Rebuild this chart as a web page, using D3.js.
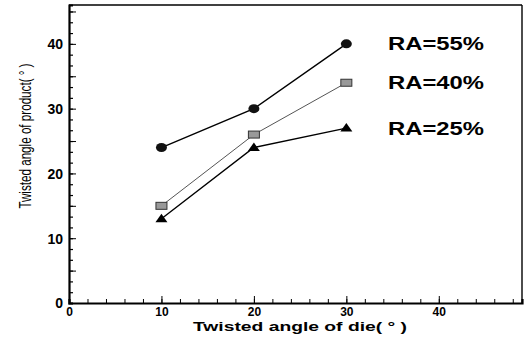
<!DOCTYPE html>
<html><head><meta charset="utf-8">
<script src="https://cdn.jsdelivr.net/npm/d3@7"></script>
<style>body{margin:0;background:#fff}svg{display:block}text{font-family:"Liberation Sans",Arial,sans-serif}</style>
</head><body><svg id="c" width="529" height="339"></svg>
<script>
const dieAngles = [10, 20, 30];
const ra55 = [24, 30, 40];
const ra40 = [15, 26, 34];
const ra25 = [13, 24, 27];
const seriesNames = ["RA=55%", "RA=40%", "RA=25%"];
const xTicks = [0, 10, 20, 30, 40];
const yTicks = [0, 10, 20, 30, 40];
const xTitle = "Twisted angle of die( ° )";
const yTitle = "Twisted angle of product( ° )";

const svg = d3.select("#c");
const L = 69, R = 522, T = 5, B = 303;
const x = d3.scaleLinear().domain([0, 49]).range([L, R]);
const y = d3.scaleLinear().domain([0, 46]).range([B, T]);

// frame
svg.append("line").attr("x1", L).attr("x2", R).attr("y1", T).attr("y2", T).attr("stroke", "#000").attr("stroke-width", 1.6);
svg.append("line").attr("x1", R).attr("x2", R).attr("y1", T).attr("y2", B).attr("stroke", "#000").attr("stroke-width", 1.4);

// y axis
const yMinor = d3.range(0, 46, 10 / 6);
const yAx = svg.append("g").attr("transform", `translate(${L},0)`);
yAx.call(d3.axisRight(y).tickValues(yMinor).tickSize(4).tickFormat(""));
yAx.call(g => g.selectAll(".tick line").attr("stroke-width", 1.2));
const yMaj = svg.append("g").attr("transform", `translate(${L},0)`)
  .call(d3.axisRight(y).tickValues(yTicks.concat([5,15,25,35,45])).tickSize(7).tickFormat(""));
yMaj.select(".domain").remove();
const yLab = svg.append("g").attr("transform", `translate(${L},0)`)
  .call(d3.axisLeft(y).tickValues(yTicks).tickSize(0).tickPadding(6));
yLab.select(".domain").remove();
yLab.selectAll("text").style("font-size", "14px").style("font-weight", "bold").attr("dy", "0.35em");
yAx.select(".domain").attr("stroke-width", 2.2);

// x axis
const xMinor = d3.range(0, 49, 2);
const xAx = svg.append("g").attr("transform", `translate(0,${B})`);
xAx.call(d3.axisTop(x).tickValues(xMinor).tickSize(4).tickFormat(""));
xAx.select(".domain").attr("stroke-width", 2.2);
const xMaj = svg.append("g").attr("transform", `translate(0,${B})`)
  .call(d3.axisTop(x).tickValues(xTicks).tickSize(7).tickFormat(""));
xMaj.select(".domain").remove();
const xLab = svg.append("g").attr("transform", `translate(0,${B})`)
  .call(d3.axisBottom(x).tickValues(xTicks).tickSize(0).tickPadding(4));
xLab.select(".domain").remove();
xLab.selectAll("text").style("font-size", "12px").style("font-weight", "bold");

// titles
svg.append("text").attr("x", 300).attr("y", 331).attr("text-anchor", "middle")
  .attr("textLength", 214).attr("lengthAdjust", "spacingAndGlyphs")
  .style("font-size", "13px").style("font-weight", "bold").text(xTitle);
svg.append("text").attr("transform", "translate(31,136) rotate(-90)").attr("text-anchor", "middle")
  .attr("textLength", 145).attr("lengthAdjust", "spacingAndGlyphs")
  .style("font-size", "16px").text(yTitle);

const line = d3.line().x((d, i) => x(dieAngles[i])).y(d => y(d));
svg.append("path").datum(ra40).attr("d", line).attr("fill", "none").attr("stroke", "#555").attr("stroke-width", 1);
svg.append("path").datum(ra55).attr("d", line).attr("fill", "none").attr("stroke", "#000").attr("stroke-width", 1.4);
svg.append("path").datum(ra25).attr("d", line).attr("fill", "none").attr("stroke", "#000").attr("stroke-width", 1.4);

svg.selectAll(".c55").data(ra55).enter().append("ellipse")
  .attr("cx", (d, i) => x(dieAngles[i])).attr("cy", d => y(d)).attr("rx", 5.5).attr("ry", 4.5).attr("fill", "#111");
svg.selectAll(".s40").data(ra40).enter().append("rect")
  .attr("x", (d, i) => x(dieAngles[i]) - 5.5).attr("y", d => y(d) - 3.5).attr("width", 11).attr("height", 7)
  .attr("fill", "#999").attr("stroke", "#333").attr("stroke-width", 1);
svg.selectAll(".t25").data(ra25).enter().append("path")
  .attr("d", (d, i) => { const cx = x(dieAngles[i]), cy = y(d); return `M${cx - 6},${cy + 3.5}L${cx + 6},${cy + 3.5}L${cx},${cy - 5}Z`; })
  .attr("fill", "#000");

// labels
const labY = [43, 82, 128];
svg.selectAll(".lab").data(seriesNames).enter().append("text")
  .attr("x", 388).attr("y", (d, i) => labY[i]).attr("dy", "0.35em")
  .attr("textLength", 96).attr("lengthAdjust", "spacingAndGlyphs")
  .style("font-size", "19px").style("font-weight", "bold").text(d => d);
</script></body></html>
